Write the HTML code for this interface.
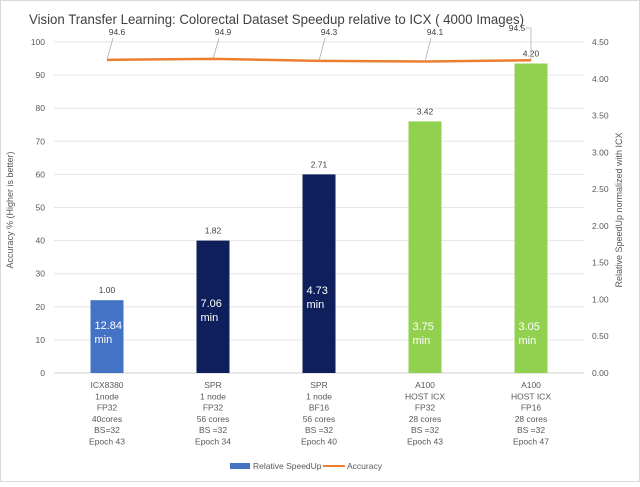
<!DOCTYPE html>
<html><head><meta charset="utf-8"><style>
body{margin:0;background:#fff;font-family:"Liberation Sans",sans-serif;}
svg text{font-family:"Liberation Sans",sans-serif;}
</style></head><body>
<svg id="c" width="640" height="482" xmlns="http://www.w3.org/2000/svg">
<rect x="0.5" y="0.5" width="639" height="481" fill="#fff" stroke="#d9d9d9"/>
<text x="29" y="24" font-size="14" textLength="495" lengthAdjust="spacingAndGlyphs" fill="#404040">Vision Transfer Learning: Colorectal Dataset Speedup relative to ICX ( 4000 Images)</text>
<text transform="translate(13,210) rotate(-90)" text-anchor="middle" font-size="9" fill="#595959">Accuracy % (Higher is better)</text>
<text transform="translate(622,210) rotate(-90)" text-anchor="middle" font-size="9" fill="#595959">Relative SpeedUp normalized with ICX</text>
<g id="g"></g>
<g>
<rect x="230" y="463" width="20" height="6" fill="#4472C4"/>
<text x="253" y="469" font-size="8.5" fill="#595959">Relative SpeedUp</text>
<line x1="323" y1="466" x2="345" y2="466" stroke="#ED7D31" stroke-width="2"/>
<text x="347" y="469" font-size="8.5" fill="#595959">Accuracy</text>
</g>
</svg>
<script>
const categories=[["ICX8380","1node","FP32","40cores","BS=32","Epoch 43"],["SPR","1 node","FP32","56 cores","BS =32","Epoch 34"],["SPR","1 node","BF16","56 cores","BS =32","Epoch 40"],["A100","HOST ICX","FP32","28 cores","BS =32","Epoch 43"],["A100","HOST ICX","FP16","28 cores","BS =32","Epoch 47"]];
const speedupLabels=["1.00","1.82","2.71","3.42","4.20"];
const barHeights=[22,40,60,76,93.5];
const timeLabels=["12.84","7.06","4.73","3.75","3.05"];
const accuracy=[94.6,94.9,94.3,94.1,94.5];
const leftTicks=[0,10,20,30,40,50,60,70,80,90,100];
const rightTicks=[0,0.5,1,1.5,2,2.5,3,3.5,4,4.5];
const barColors=["#4472C4","#0E1F5B","#0E1F5B","#92D050","#92D050"];
const timeY=[329,307,294,330,330];
const NS="http://www.w3.org/2000/svg",g=document.getElementById('g');
const X0=54,X1=584,Y0=373,Y1=42;
const y=v=>Y0-(v/100)*(Y0-Y1);
const yr=v=>Y0-(v/4.5)*(Y0-Y1);
const bw=(X1-X0)/categories.length;
const xc=i=>X0+bw*(i+0.5);
function mk(t,a,txt){const e=document.createElementNS(NS,t);for(const k in a)e.setAttribute(k,a[k]);if(txt!==undefined)e.textContent=txt;g.appendChild(e);return e;}
leftTicks.forEach(v=>{
 const l=mk('line',{x1:X0,x2:X1,y1:y(v),y2:y(v),stroke:v===0?'#d0d0d0':'#e6e6e6','stroke-width':1});
 
 
 const t=mk('text',{x:45,y:y(v)+3,'text-anchor':'end','font-size':8.5,fill:'#595959'},v);
 
 
});
rightTicks.forEach(v=>{
 const t=mk('text',{x:592,y:yr(v)+3,'font-size':8.5,fill:'#595959'},v.toFixed(2));
 
 
});
categories.forEach((lines,i)=>{
 const h=barHeights[i],w=33;
 const r=mk('rect',{x:xc(i)-w/2,y:y(h),width:w,height:Y0-y(h),fill:barColors[i]});
 
 
 const sl=mk('text',{x:xc(i),y:y(h)-7,'text-anchor':'middle','font-size':8.5,fill:'#404040'},speedupLabels[i]);
 
 
 const lx=xc(i)-w/2+4;
 const t1=mk('text',{x:lx,y:timeY[i],'font-size':11,fill:'#fff'},timeLabels[i]);
 
 
 const t2=mk('text',{x:lx,y:timeY[i]+14,'font-size':11,fill:'#fff'},'min');
 
 
 lines.forEach((s,j)=>{
  const c=mk('text',{x:xc(i),y:388+j*11.3,'text-anchor':'middle','font-size':8.5,fill:'#595959'},s);
  
  
 });
});
let d='';
accuracy.forEach((v,i)=>{d+=(i?' L':'M')+xc(i)+' '+y(v);});
const p=mk('path',{d:d,fill:'none',stroke:'#ED7D31','stroke-width':2.5});


accuracy.forEach((v,i)=>{
 const last=i===accuracy.length-1;
 const ld=mk('line',{x1:xc(i),y1:y(v),x2:last?xc(i):xc(i)+6,y2:last?28:38,stroke:'#a6a6a6','stroke-width':0.7});
 
 
 if(last){const l2=mk('line',{x1:xc(i),y1:28,x2:xc(i)-5,y2:28,stroke:'#a6a6a6','stroke-width':0.7});
  
  }
 const t=mk('text',{x:last?xc(i)-14:xc(i)+10,y:last?31:35,'text-anchor':'middle','font-size':8.5,fill:'#404040'},v.toFixed(1));
 
 
});
</script>
</body></html>
